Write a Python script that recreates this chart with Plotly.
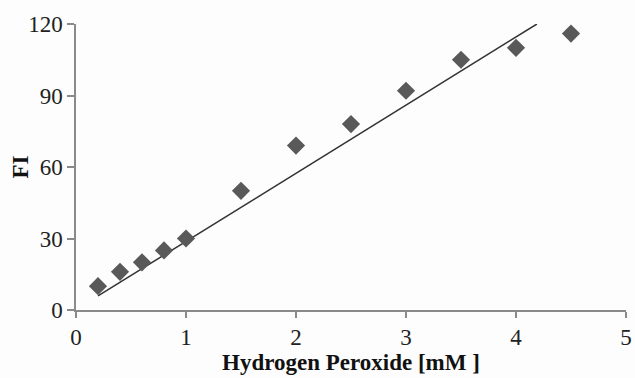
import plotly.graph_objects as go

# Data
h2o2_mM = [0.2, 0.4, 0.6, 0.8, 1.0, 1.5, 2.0, 2.5, 3.0, 3.5, 4.0, 4.5]
fi_values = [10, 16, 20, 25, 30, 50, 69, 78, 92, 105, 110, 116]

# Linear trend line endpoints (as drawn in the reference)
fit_x = [0.2, 4.19]
fit_y = [5.9, 120]

x_ticks = [0, 1, 2, 3, 4, 5]
y_ticks = [0, 30, 60, 90, 120]

FONT = "Liberation Serif, Times New Roman, serif"

fig = go.Figure()
fig.add_trace(go.Scatter(
    x=fit_x, y=fit_y, mode="lines",
    line=dict(color="#333333", width=1.5),
    showlegend=False, hoverinfo="skip",
))
fig.add_trace(go.Scatter(
    x=h2o2_mM, y=fi_values, mode="markers",
    marker=dict(symbol="diamond", size=14, color="#595959"),
    showlegend=False,
))

fig.update_layout(
    width=635, height=378,
    margin=dict(l=76, r=9, t=24, b=68),
    paper_bgcolor="#fdfdfd", plot_bgcolor="#fdfdfd",
    font=dict(family=FONT, size=23, color="#222222"),
    xaxis=dict(
        range=[0, 5], tickvals=x_ticks, ticktext=[str(v) for v in x_ticks],
        showline=True, linecolor="#8a8a8a", linewidth=1.5,
        ticks="outside", ticklen=6, tickcolor="#8a8a8a", tickwidth=1.5,
        showgrid=False, zeroline=False, automargin=False,
        tickfont=dict(family=FONT, size=23, color="#222222"),
    ),
    yaxis=dict(
        range=[0, 120], tickvals=y_ticks, ticktext=[str(v) for v in y_ticks],
        showline=True, linecolor="#8a8a8a", linewidth=1.5,
        ticks="outside", ticklen=7, tickcolor="#8a8a8a", tickwidth=1.5,
        showgrid=False, zeroline=False, automargin=False,
        tickfont=dict(family=FONT, size=23, color="#222222"),
    ),
    annotations=[
        dict(text="<b>Hydrogen Peroxide [mM ]</b>", xref="paper", yref="paper",
             x=0.5, y=-0.132, xanchor="center", yanchor="top", showarrow=False,
             font=dict(family=FONT, size=23, color="#111111")),
        dict(text="<b>FI</b>", xref="paper", yref="paper",
             x=-0.1027, y=0.5, xanchor="center", yanchor="middle", showarrow=False,
             textangle=-90,
             font=dict(family=FONT, size=23, color="#111111")),
    ],
)

fig.write_html("out.html")
